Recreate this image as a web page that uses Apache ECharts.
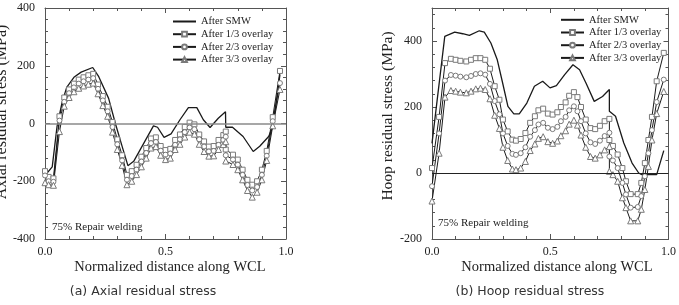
<!DOCTYPE html>
<html><head><meta charset="utf-8">
<script src="https://cdn.jsdelivr.net/npm/echarts@6/dist/echarts.min.js"></script>
<style>html,body{margin:0;padding:0;background:#fff}#c{width:679px;height:305px}</style>
</head><body><div id="c"></div>
<script>
const seriesNames = ['After SMW', 'After 1/3 overlay', 'After 2/3 overlay', 'After 3/3 overlay'];
const xTickLabels = ['0.0', '0.5', '1.0'];

// (a) Axial residual stress
const axialSmwX = [0, 0.03, 0.05, 0.07, 0.09, 0.12, 0.15, 0.198, 0.223, 0.264, 0.292, 0.32, 0.344, 0.368, 0.45, 0.467, 0.494, 0.523, 0.56, 0.595, 0.63, 0.657, 0.685, 0.719, 0.749, 0.75, 0.778, 0.822, 0.864, 0.891, 0.928, 0.946, 0.975];
const axialSmw = [-180, -150, -10, 70, 125, 160, 178, 194, 162, 87, 0, -79, -146, -131, -8, -13, -48, -36, 13, 55, 55, 13, -14, 18, 41, -13, -13, -45, -97, -79, -45, -10, 170];
const axialX = [0, 0.015, 0.035, 0.06, 0.08, 0.1, 0.12, 0.14, 0.16, 0.18, 0.2, 0.22, 0.24, 0.26, 0.28, 0.3, 0.32, 0.34, 0.36, 0.38, 0.4, 0.42, 0.44, 0.46, 0.48, 0.5, 0.52, 0.54, 0.56, 0.58, 0.6, 0.62, 0.64, 0.66, 0.68, 0.7, 0.72, 0.74, 0.75, 0.75, 0.78, 0.8, 0.82, 0.84, 0.86, 0.88, 0.9, 0.92, 0.945, 0.975];
const axial13 = [-165, -185, -190, 25, 90, 118, 138, 152, 160, 167, 172, 135, 95, 58, 5, -55, -110, -178, -165, -143, -115, -85, -52, -48, -78, -92, -88, -57, -38, -12, 3, -3, -38, -62, -80, -78, -57, -40, -28, -90, -108, -125, -160, -195, -212, -200, -160, -95, 22, 182];
const axial23 = [-180, -200, -202, 10, 75, 105, 125, 138, 146, 152, 157, 120, 80, 42, -12, -72, -128, -195, -182, -160, -132, -102, -68, -64, -94, -108, -104, -74, -55, -30, -14, -20, -55, -80, -97, -95, -74, -57, -46, -110, -125, -143, -178, -213, -232, -220, -178, -112, 8, 140];
const axial33 = [-205, -212, -214, -28, 60, 90, 110, 122, 130, 136, 140, 103, 62, 25, -30, -90, -145, -212, -200, -177, -150, -120, -85, -80, -110, -125, -120, -90, -72, -47, -30, -37, -72, -97, -113, -112, -90, -73, -63, -130, -142, -160, -195, -232, -255, -238, -195, -128, -8, 118];

// (b) Hoop residual stress
const hoopSmwX = [0, 0.054, 0.096, 0.13, 0.158, 0.2, 0.221, 0.249, 0.276, 0.297, 0.321, 0.346, 0.369, 0.401, 0.433, 0.468, 0.499, 0.526, 0.561, 0.596, 0.624, 0.651, 0.686, 0.721, 0.75, 0.75, 0.776, 0.811, 0.846, 0.874, 0.887, 0.95, 0.958, 0.98];
const hoopSmw = [90, 414, 427, 422, 417, 431, 427, 394, 343, 278, 202, 179, 179, 212, 263, 278, 258, 265, 298, 328, 313, 273, 217, 232, 253, 187, 172, 91, 30, 0, -5, -5, 0, 68];
const hoopX = [0, 0.03, 0.055, 0.08, 0.1, 0.12, 0.145, 0.165, 0.185, 0.205, 0.225, 0.245, 0.265, 0.285, 0.3, 0.32, 0.34, 0.355, 0.375, 0.395, 0.415, 0.435, 0.45, 0.47, 0.49, 0.51, 0.53, 0.545, 0.565, 0.58, 0.6, 0.615, 0.63, 0.65, 0.67, 0.69, 0.71, 0.73, 0.75, 0.75, 0.765, 0.785, 0.805, 0.82, 0.84, 0.87, 0.885, 0.9, 0.915, 0.93, 0.95, 0.98];
const hoop13 = [15, 170, 333, 346, 343, 340, 338, 343, 348, 348, 343, 316, 263, 222, 162, 126, 101, 98, 103, 121, 152, 172, 190, 195, 180, 177, 184, 200, 214, 234, 245, 230, 200, 162, 136, 133, 143, 157, 164, 100, 82, 56, 15, -25, -64, -64, -30, 30, 100, 170, 278, 364];
const hoop23 = [-40, 120, 280, 297, 295, 292, 290, 294, 300, 302, 298, 270, 218, 178, 120, 82, 58, 55, 60, 78, 110, 130, 147, 152, 137, 133, 140, 157, 170, 190, 202, 187, 157, 120, 93, 88, 98, 112, 122, 50, 38, 15, -30, -65, -105, -103, -70, -10, 60, 130, 215, 283];
const hoop33 = [-85, 60, 230, 250, 248, 245, 243, 248, 255, 257, 253, 225, 175, 135, 78, 38, 12, 10, 15, 35, 68, 88, 105, 110, 95, 90, 97, 113, 128, 148, 160, 145, 115, 78, 50, 45, 55, 70, 80, 5, -5, -25, -75, -105, -145, -145, -110, -50, 20, 100, 180, 247];

const zip = (xs, ys) => xs.map((x, i) => [x, ys[i]]);
const SERIF = 'Liberation Serif';
const AX = '#555';
const LINE = '#1a1a1a';

function xAx(gridIndex, top) {
  return {
    type: 'value', gridIndex, min: 0, max: 1, interval: 0.5, position: top ? 'top' : 'bottom',
    axisLine: { show: true, onZero: false, lineStyle: { color: AX, width: 1 } },
    axisTick: { show: true, inside: true, length: 5, lineStyle: { color: AX } },
    minorTick: { show: true, splitNumber: 5, length: 3, lineStyle: { color: AX } },
    splitLine: { show: false },
    axisLabel: top ? { show: false } : {
      show: true, margin: 7, color: '#222', fontFamily: SERIF, fontSize: 12,
      formatter: v => xTickLabels[Math.round(v * 2)]
    }
  };
}
function yAx(gridIndex, right, min, max) {
  return {
    type: 'value', gridIndex, min, max, interval: 200, position: right ? 'right' : 'left',
    axisLine: { show: true, onZero: false, lineStyle: { color: AX, width: 1 } },
    axisTick: { show: true, inside: true, length: 5, lineStyle: { color: AX } },
    minorTick: { show: true, splitNumber: 5, length: 3, lineStyle: { color: AX } },
    splitLine: { show: false },
    axisLabel: right ? { show: false } : {
      show: true, margin: 10, color: '#222', fontFamily: SERIF, fontSize: 12, showMaxLabel: max === 400
    }
  };
}
function smw(name, xi, yi, data, zeroColor, zeroWidth) {
  return {
    type: 'line', name, xAxisIndex: xi, yAxisIndex: yi, data, symbol: 'none', color: LINE,
    lineStyle: { color: LINE, width: 1.3 }, z: 3,
    markLine: {
      silent: true, symbol: ['none', 'none'], label: { show: false },
      lineStyle: { color: zeroColor, width: zeroWidth, type: 'solid' },
      data: [{ yAxis: 0 }], animation: false
    }
  };
}
function ov(name, xi, yi, data, symbol, size) {
  return {
    type: 'line', name, xAxisIndex: xi, yAxisIndex: yi, data, symbol, symbolSize: size,
    lineStyle: { color: LINE, width: 1 },
    itemStyle: { color: '#fff', borderColor: '#7a7a7a', borderWidth: 1 }, z: 4
  };
}
function legend(left, top) {
  return {
    orient: 'vertical', left, top, padding: 0, itemWidth: 23, itemHeight: 6, itemGap: 1.7,
    selectedMode: false,
    data: [
      { name: seriesNames[0], itemStyle: { opacity: 0 } },
      seriesNames[1], seriesNames[2], seriesNames[3]
    ],
    textStyle: { fontFamily: SERIF, fontSize: 10.5, color: '#222' }
  };
}
function txt(x, y, text, size, opts) {
  return Object.assign({
    type: 'text', x, y, silent: true,
    style: { text, fontFamily: SERIF, fontSize: size, fill: '#222', align: 'center', verticalAlign: 'middle' }
  }, opts || {});
}

const chart = echarts.init(document.getElementById('c'), null, { renderer: 'canvas' });
chart.setOption({
  animation: false,
  backgroundColor: '#fff',
  grid: [
    { left: 45, top: 8, width: 241, height: 231 },
    { left: 432, top: 8, width: 240, height: 231 }
  ],
  xAxis: [xAx(0, false), xAx(0, true), xAx(1, false), xAx(1, true)],
  yAxis: [yAx(0, false, -400, 400), yAx(0, true, -400, 400), yAx(1, false, -200, 500), yAx(1, true, -200, 500)],
  legend: [legend(172, 16), legend(560, 14.3)],
  series: [
    smw(seriesNames[0], 0, 0, zip(axialSmwX, axialSmw), '#8a8a8a', 1.5),
    ov(seriesNames[1], 0, 0, zip(axialX, axial13), 'rect', 5),
    ov(seriesNames[2], 0, 0, zip(axialX, axial23), 'circle', 5),
    ov(seriesNames[3], 0, 0, zip(axialX, axial33), 'triangle', 6),
    smw(seriesNames[0], 2, 2, zip(hoopSmwX, hoopSmw), '#222', 1),
    ov(seriesNames[1], 2, 2, zip(hoopX, hoop13), 'rect', 5),
    ov(seriesNames[2], 2, 2, zip(hoopX, hoop23), 'circle', 5),
    ov(seriesNames[3], 2, 2, zip(hoopX, hoop33), 'triangle', 6)
  ],
  graphic: [
    txt(2, 112, 'Axial residual stress (MPa)', 16, { rotation: Math.PI / 2 }),
    txt(388, 116, 'Hoop residual stress (MPa)', 15.5, { rotation: Math.PI / 2 }),
    txt(170, 267, 'Normalized distance along WCL', 14.5),
    txt(557, 267, 'Normalized distance along WCL', 14.5),
    { type: 'text', x: 52, y: 227, silent: true, style: { text: '75% Repair welding', fontFamily: SERIF, fontSize: 11, fill: '#222', align: 'left', verticalAlign: 'middle' } },
    { type: 'text', x: 438, y: 223, silent: true, style: { text: '75% Repair welding', fontFamily: SERIF, fontSize: 11, fill: '#222', align: 'left', verticalAlign: 'middle' } },
    { type: 'text', x: 143, y: 292, silent: true, style: { text: '(a) Axial residual stress', fontFamily: 'DejaVu Sans', fontSize: 12.5, fill: '#333', align: 'center', verticalAlign: 'middle' } },
    { type: 'text', x: 530, y: 292, silent: true, style: { text: '(b) Hoop residual stress', fontFamily: 'DejaVu Sans', fontSize: 12.5, fill: '#333', align: 'center', verticalAlign: 'middle' } }
  ]
});
</script></body></html>
